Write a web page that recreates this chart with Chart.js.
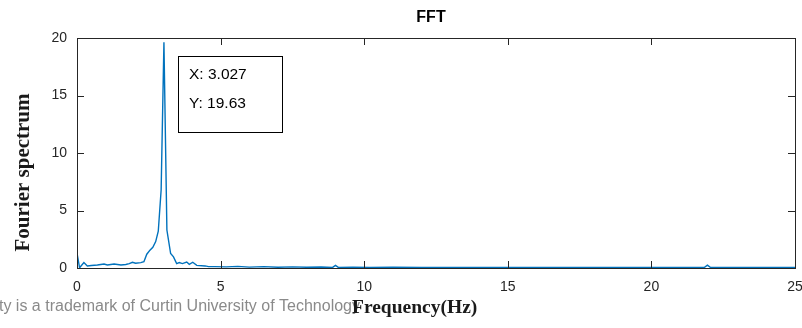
<!DOCTYPE html>
<html>
<head>
<meta charset="utf-8">
<title>FFT</title>
<script src="https://cdn.jsdelivr.net/npm/chart.js@4/dist/chart.umd.min.js"></script>
<style>
  html, body { margin: 0; padding: 0; background: #fff; }
  #wrap { width: 802px; height: 328px; }
</style>
</head>
<body>
<div id="wrap"><canvas id="fft" width="802" height="328"></canvas></div>
<script>
// frecuencias (Hz) y amplitud del espectro
const frecuencias = [
  0, 0.09, 0.24, 0.36, 0.5, 0.71, 0.94, 1.06, 1.29, 1.53, 1.7, 1.82, 1.93, 2.04, 2.22, 2.33,
  2.43, 2.54, 2.64, 2.74, 2.83, 2.93, 3.027, 3.13, 3.26, 3.36, 3.47, 3.56, 3.67, 3.82, 3.91,
  4.03, 4.17, 4.46, 4.58, 4.8, 5.2, 5.6, 6.0, 6.5, 7.0, 7.5, 8.0, 8.5, 8.9, 9.0, 9.1, 9.6,
  10.2, 11, 12, 13, 14, 15, 16, 17, 18, 19, 20, 21, 21.85, 21.95, 22.05, 23, 24, 25
];
const amplitudes = [
  1.3, 0.02, 0.47, 0.18, 0.22, 0.26, 0.35, 0.26, 0.35, 0.26, 0.3, 0.38, 0.5, 0.41, 0.47, 0.55,
  1.2, 1.55, 1.8, 2.3, 3.2, 6.8, 19.63, 3.3, 1.26, 0.97, 0.38, 0.47, 0.38, 0.52, 0.32,
  0.5, 0.23, 0.18, 0.12, 0.12, 0.1, 0.14, 0.08, 0.12, 0.07, 0.1, 0.06, 0.09, 0.05, 0.22, 0.05, 0.07,
  0.05, 0.06, 0.04, 0.05, 0.04, 0.05, 0.04, 0.05, 0.04, 0.05, 0.04, 0.05, 0.06, 0.25, 0.06, 0.04, 0.05, 0.04
];
const ticksX = [0, 5, 10, 15, 20, 25];
const ticksY = [0, 5, 10, 15, 20];
const pico = { x: 3.027, y: 19.63 }; // punto marcado con el datatip

const colorEje = '#262626';
Chart.defaults.font.family = '"Liberation Sans", Arial, sans-serif';
Chart.defaults.color = colorEje;

// dibuja caja de ejes, ticks hacia dentro, titulos y el datatip
const estiloMatlab = {
  id: 'estiloMatlab',
  afterDraw(chart) {
    const { ctx, chartArea: a, scales: { x, y } } = chart;
    const largo = 7;
    ctx.save();
    ctx.strokeStyle = colorEje;
    ctx.lineWidth = 1;
    ctx.beginPath();
    ticksX.forEach(v => {
      const px = Math.round(x.getPixelForValue(v)) + 0.5;
      ctx.moveTo(px, a.bottom); ctx.lineTo(px, a.bottom - largo);
      ctx.moveTo(px, a.top); ctx.lineTo(px, a.top + largo);
    });
    ticksY.forEach(v => {
      const py = Math.round(y.getPixelForValue(v)) + 0.5;
      ctx.moveTo(a.left, py); ctx.lineTo(a.left + largo, py);
      ctx.moveTo(a.right, py); ctx.lineTo(a.right - largo, py);
    });
    ctx.stroke();
    ctx.strokeRect(Math.round(a.left) + 0.5, Math.round(a.top) + 0.5,
      Math.round(a.right - a.left), Math.round(a.bottom - a.top));

    // titulo
    ctx.fillStyle = '#000';
    ctx.font = 'bold 16px "Liberation Sans", Arial, sans-serif';
    ctx.textAlign = 'center';
    ctx.textBaseline = 'alphabetic';
    ctx.fillText('FFT', 431, 21.5);

    // texto de fondo recortado
    ctx.fillStyle = '#8a8a8a';
    ctx.font = '16px "Liberation Sans", Arial, sans-serif';
    ctx.textAlign = 'right';
    ctx.fillText('ty is a trademark of Curtin University of Technology', 360, 311);

    // titulos de ejes
    ctx.fillStyle = '#1a1a1a';
    ctx.font = 'bold 19.5px "Liberation Serif", "Times New Roman", serif';
    ctx.textAlign = 'left';
    ctx.fillText('Frequency(Hz)', 352, 312.5);
    ctx.save();
    ctx.translate(28.5, 172.5);
    ctx.rotate(-Math.PI / 2);
    ctx.textAlign = 'center';
    ctx.font = 'bold 21px "Liberation Serif", "Times New Roman", serif';
    ctx.fillText('Fourier spectrum', 0, 0);
    ctx.restore();

    // datatip del pico
    const bx = Math.round(x.getPixelForValue(pico.x)) + 14.5;
    const by = Math.round(y.getPixelForValue(pico.y)) + 14.5;
    ctx.fillStyle = '#fff';
    ctx.fillRect(bx, by, 104, 76);
    ctx.strokeStyle = '#000';
    ctx.strokeRect(bx, by, 104, 76);
    ctx.fillStyle = '#000';
    ctx.font = '15.5px "Liberation Sans", Arial, sans-serif';
    ctx.fillText('X: ' + pico.x.toFixed(3), bx + 10.5, by + 22.5);
    ctx.fillText('Y: ' + pico.y.toFixed(2), bx + 10.5, by + 51);
    ctx.restore();
  }
};

const ctx = document.getElementById('fft').getContext('2d');
const chart = new Chart(ctx, {
  type: 'line',
  data: {
    datasets: [{
      data: frecuencias.map((f, i) => ({ x: f, y: amplitudes[i] })),
      borderColor: '#0072BD',
      borderWidth: 1.4,
      pointRadius: 0,
      tension: 0,
      fill: false
    }]
  },
  options: {
    responsive: false,
    animation: false,
    layout: { padding: { left: 0, right: 7, top: 38, bottom: 0 } },
    plugins: { legend: { display: false }, tooltip: { enabled: false } },
    scales: {
      x: {
        type: 'linear', min: 0, max: 25,
        afterBuildTicks: s => { s.ticks = ticksX.map(v => ({ value: v })); },
        afterFit: s => { s.height = 60; s.paddingLeft = 0; s.paddingRight = 0; },
        grid: { display: false, drawTicks: false, tickLength: 0 },
        border: { display: false },
        ticks: { padding: 11, font: { size: 14 }, color: colorEje, maxRotation: 0 }
      },
      y: {
        type: 'linear', min: 0, max: 20,
        afterBuildTicks: s => { s.ticks = ticksY.map(v => ({ value: v })); },
        afterFit: s => { s.width = 77; s.paddingTop = 0; s.paddingBottom = 0; },
        grid: { display: false, drawTicks: false, tickLength: 0 },
        border: { display: false },
        ticks: { padding: 10, font: { size: 14 }, color: colorEje }
      }
    }
  },
  plugins: [estiloMatlab]
});
</script>
</body>
</html>
